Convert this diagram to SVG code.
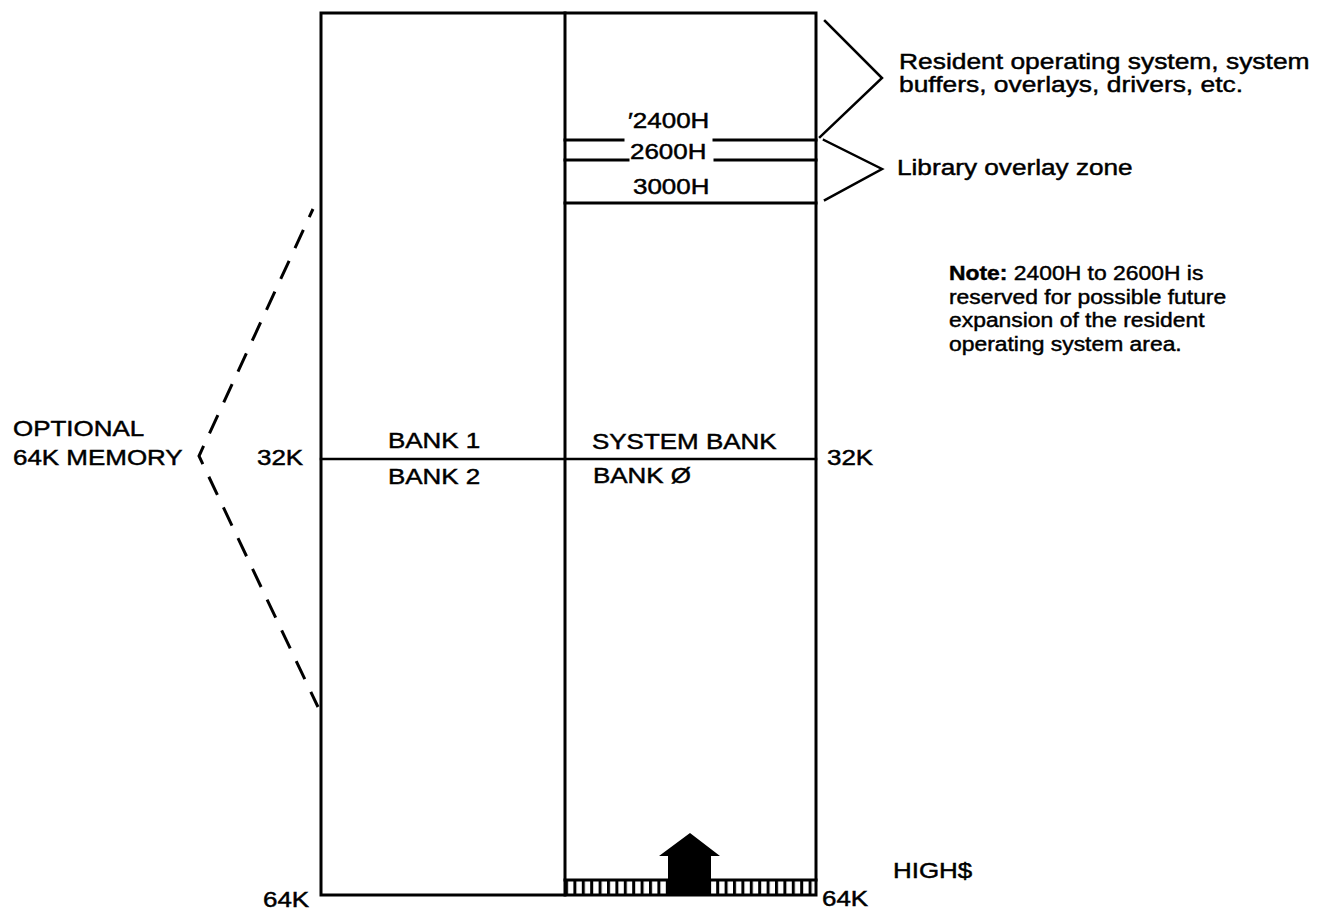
<svg xmlns="http://www.w3.org/2000/svg" width="1330" height="912" viewBox="0 0 1330 912">
<style>
  .ln{stroke:#000;fill:none;stroke-linecap:square}
  .t{font-family:"Liberation Sans",Arial,Helvetica,sans-serif;font-size:22px;fill:#000;stroke:#000;stroke-width:0.45}
  .n{font-family:"Liberation Sans",Arial,Helvetica,sans-serif;font-size:21px;fill:#000;stroke:#000;stroke-width:0.45}
  .b{font-weight:bold}
</style>
<defs>
  <pattern id="hatch" x="565" y="0" width="8.4" height="20" patternUnits="userSpaceOnUse">
    <rect x="0" y="0" width="3" height="20" fill="#000"/>
  </pattern>
</defs>
<rect width="1330" height="912" fill="#fff"/>

<g id="memory-map">
  <rect class="ln" x="321" y="13" width="495" height="882" stroke-width="3"/>
  <line class="ln" x1="565" y1="13" x2="565" y2="895" stroke-width="3"/>
  <line class="ln" x1="321" y1="459" x2="816" y2="459" stroke-width="2.5"/>
</g>

<g id="system-bank-zones">
  <line class="ln" x1="565" y1="140" x2="623" y2="140" stroke-width="3"/>
  <line class="ln" x1="714" y1="140" x2="816" y2="140" stroke-width="3"/>
  <line class="ln" x1="565" y1="160" x2="628" y2="160" stroke-width="3"/>
  <line class="ln" x1="715" y1="160" x2="816" y2="160" stroke-width="3"/>
  <line class="ln" x1="565" y1="203" x2="816" y2="203" stroke-width="3"/>
  <text class="t" transform="translate(628 128) scale(1.18 1)">′2400H</text>
  <text class="t" transform="translate(630 159) scale(1.18 1)">2600H</text>
  <text class="t" transform="translate(633 194) scale(1.18 1)">3000H</text>
</g>

<g id="high-mark">
  <rect x="565" y="880" width="252" height="15" fill="url(#hatch)"/>
  <line class="ln" x1="565" y1="880" x2="816" y2="880" stroke-width="3"/>
  <polygon points="659,856 690,833 720,856 711,856 711,896 668,896 668,856" fill="#000"/>
  <text class="t" transform="translate(893 878) scale(1.18 1)">HIGH$</text>
</g>

<g id="bank-labels">
  <text class="t" transform="translate(388 448) scale(1.18 1)">BANK 1</text>
  <text class="t" transform="translate(388 484) scale(1.18 1)">BANK 2</text>
  <text class="t" transform="translate(592 449) scale(1.18 1)">SYSTEM BANK</text>
  <text class="t" transform="translate(593 483) scale(1.18 1)">BANK Ø</text>
  <text class="t" transform="translate(257 465) scale(1.18 1)">32K</text>
  <text class="t" transform="translate(827 465) scale(1.18 1)">32K</text>
  <text class="t" transform="translate(263 907) scale(1.18 1)">64K</text>
  <text class="t" transform="translate(822 906) scale(1.18 1)">64K</text>
</g>

<g id="optional-memory">
  <text class="t" transform="translate(13 436) scale(1.18 1)">OPTIONAL</text>
  <text class="t" transform="translate(13 465) scale(1.18 1)">64K MEMORY</text>
</g>

<g id="resident-os">
  <text class="t" transform="translate(899 69) scale(1.2 1)">Resident operating system, system</text>
  <text class="t" transform="translate(899 92) scale(1.2 1)">buffers, overlays, drivers, etc.</text>
</g>

<g id="library-zone">
  <text class="t" transform="translate(897 175) scale(1.19 1)">Library overlay zone</text>
</g>

<g id="note">
  <text class="n" transform="translate(949 280) scale(1.09 1)"><tspan class="b">Note:</tspan> 2400H to 2600H is</text>
  <text class="n" transform="translate(949 303.5) scale(1.09 1)">reserved for possible future</text>
  <text class="n" transform="translate(949 327) scale(1.09 1)">expansion of the resident</text>
  <text class="n" transform="translate(949 350.5) scale(1.09 1)">operating system area.</text>
</g>

<g id="connectors">
  <polyline class="ln" points="825,21 882,78 820,137" stroke-width="2.5" stroke-linecap="round" stroke-linejoin="miter"/>
  <polyline class="ln" points="824,140 882,169 825,200" stroke-width="2.5" stroke-linecap="round" stroke-linejoin="miter"/>
  <polyline points="313,209 199,456 318,707" fill="none" stroke="#000" stroke-width="3" stroke-dasharray="20 14" stroke-dashoffset="11"/>
</g>
</svg>
